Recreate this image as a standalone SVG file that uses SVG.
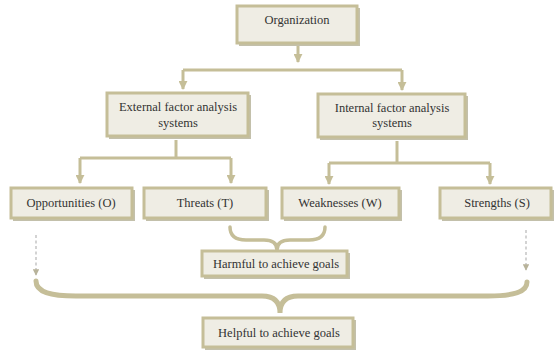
<svg xmlns="http://www.w3.org/2000/svg" width="556" height="354" viewBox="0 0 556 354">
<style>
.box{fill:#efede4;stroke:#c5be98;stroke-width:3}
.sh{fill:#aaa588;opacity:0.7}
.t{font-family:"Liberation Serif","Times New Roman",serif;font-size:12.5px;fill:#333;text-anchor:middle}
.ln{fill:none;stroke:#c5be98;stroke-width:3}
.br{fill:none;stroke:#c5be98;stroke-linecap:round}
.ds{fill:none;stroke:#bcbcbc;stroke-width:1.3;stroke-dasharray:3 2.5}
</style>
<defs>
<marker id="ah" viewBox="0 0 10 10" refX="9" refY="5" markerWidth="3" markerHeight="3" orient="auto" markerUnits="strokeWidth">
<path d="M0,0 L10,5 L0,10 Z" fill="#c5be98"/>
</marker>
<marker id="ahs" viewBox="0 0 10 10" refX="9" refY="5" markerWidth="5" markerHeight="5" orient="auto" markerUnits="strokeWidth">
<path d="M0,0 L10,5 L0,10 Z" fill="#b8b39a"/>
</marker>
</defs>
<rect width="556" height="354" fill="#ffffff"/>
<g id="connectors">
<path class="ln" d="M298,46 V62" marker-end="url(#ah)"/>
<path class="ln" d="M183,70 H402"/>
<path class="ln" d="M183,70 V89" marker-end="url(#ah)"/>
<path class="ln" d="M402,70 V90" marker-end="url(#ah)"/>
<path class="ln" d="M176,140 V158"/>
<path class="ln" d="M80,158 H231"/>
<path class="ln" d="M80,158 V183" marker-end="url(#ah)"/>
<path class="ln" d="M231,158 V183" marker-end="url(#ah)"/>
<path class="ln" d="M397,141 V163"/>
<path class="ln" d="M329,163 H490"/>
<path class="ln" d="M329,163 V184" marker-end="url(#ah)"/>
<path class="ln" d="M490,163 V184" marker-end="url(#ah)"/>
<path class="br" stroke-width="3.5" d="M230,227 Q230,240 246,240 L264,240 Q277,240 277,250 Q277,240 290,240 L309,240 Q325,240 325,227"/>
<path class="br" stroke-width="5" d="M36,281 C36,292 50,296 76,296 L262,296 Q280,296 280,313 Q280,296 298,296 L488,296 C514,296 527,292 527,282"/>
<path class="ds" d="M36,235 V275" marker-end="url(#ahs)"/>
<path class="ds" d="M526,230 V270" marker-end="url(#ahs)"/>
</g>
<g id="organization">
<rect class="sh" x="239" y="8" width="121" height="38"/>
<rect class="box" x="237" y="6" width="120" height="37"/>
<text class="t" x="297" y="24">Organization</text>
</g>
<g id="external">
<rect class="sh" x="109" y="95" width="142" height="44"/>
<rect class="box" x="107" y="93" width="141" height="43"/>
<text class="t" x="178" y="111">External factor analysis</text>
<text class="t" x="178" y="127">systems</text>
</g>
<g id="internal">
<rect class="sh" x="320" y="96" width="148" height="44"/>
<rect class="box" x="318" y="94" width="147" height="43"/>
<text class="t" x="392" y="112">Internal factor analysis</text>
<text class="t" x="392" y="127">systems</text>
</g>
<g id="opportunities">
<rect class="sh" x="13" y="190" width="122" height="31"/>
<rect class="box" x="11" y="188" width="121" height="30"/>
<text class="t" x="71" y="207">Opportunities (O)</text>
</g>
<g id="threats">
<rect class="sh" x="146" y="190" width="123" height="31"/>
<rect class="box" x="144" y="188" width="122" height="30"/>
<text class="t" x="205" y="207">Threats (T)</text>
</g>
<g id="weaknesses">
<rect class="sh" x="284" y="190" width="118" height="31"/>
<rect class="box" x="282" y="188" width="117" height="30"/>
<text class="t" x="340" y="207">Weaknesses (W)</text>
</g>
<g id="strengths">
<rect class="sh" x="442" y="190" width="112" height="31"/>
<rect class="box" x="440" y="188" width="111" height="30"/>
<text class="t" x="497" y="207">Strengths (S)</text>
</g>
<g id="harmful">
<rect class="sh" x="204" y="253" width="146" height="26"/>
<rect class="box" x="202" y="251" width="145" height="25"/>
<text class="t" x="276" y="268">Harmful to achieve goals</text>
</g>
<g id="helpful">
<rect class="sh" x="205" y="320" width="151" height="30"/>
<rect class="box" x="203" y="318" width="150" height="29"/>
<text class="t" x="279" y="337">Helpful to achieve goals</text>
</g>
</svg>
